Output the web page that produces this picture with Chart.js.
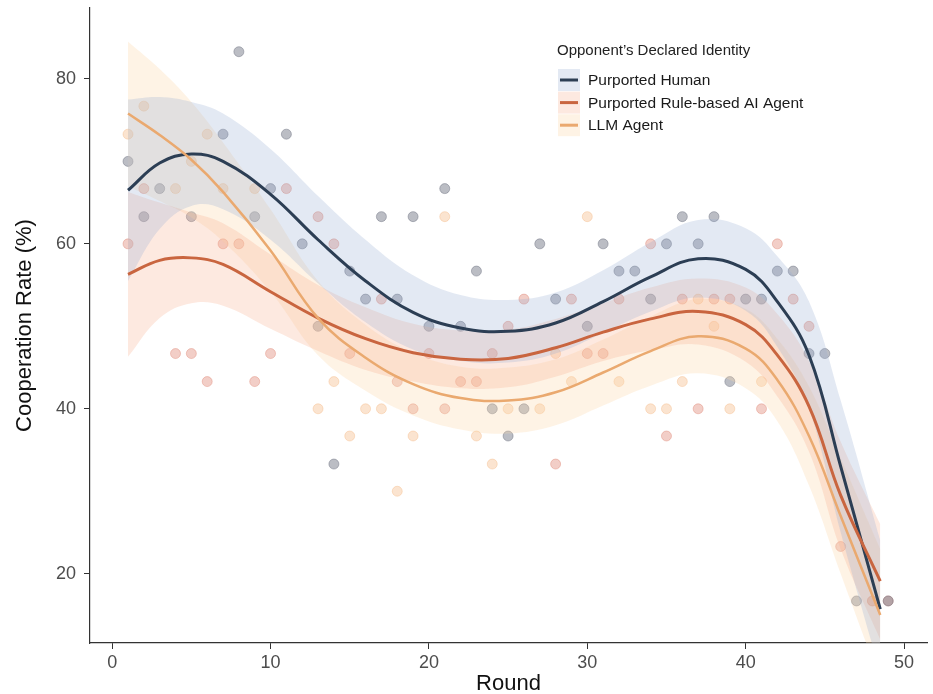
<!DOCTYPE html>
<html>
<head>
<meta charset="utf-8">
<title>Cooperation Rate by Round</title>
<script src="https://cdn.jsdelivr.net/npm/chart.js@4.4.1/dist/chart.umd.min.js"></script>
<style>
  html, body { margin: 0; padding: 0; background: #fff; }
  #wrap { width: 933px; height: 694px; position: relative; }
</style>
</head>
<body>
<div id="wrap"><canvas id="coopChart"></canvas></div>
<script>
// Cooperation rate per round, split by the opponent's declared identity

const rounds = [1, 2, 3, 4, 5, 6, 7, 8, 9, 10, 11, 12, 13, 14, 15, 16, 17, 18, 19, 20,
  21, 22, 23, 24, 25, 26, 27, 28, 29, 30, 31, 32, 33, 34, 35, 36, 37, 38, 39, 40,
  41, 42, 43, 44, 45, 46, 47, 48, 49];

// observed rates (null = hidden behind another point)
const humanPts = [70, 63.3, 66.7, null, 63.3, null, 73.3, 83.3, 63.3, 66.7,
  73.3, 60, 50, 33.3, 56.7, 53.3, 63.3, 53.3, 63.3, 50,
  66.7, 50, 56.7, 40, 36.7, 40, 60, 53.3, null, 50,
  60, 56.7, 56.7, 53.3, 60, 63.3, 60, 63.3, 43.3, 53.3,
  53.3, 56.7, 56.7, 46.7, 46.7, null, 16.7, null, 16.7];
const rulePts = [60, 66.7, null, 46.7, 46.7, 43.3, 60, 60, 43.3, 46.7,
  66.7, null, 63.3, 60, 46.7, null, 53.3, 43.3, 40, 46.7,
  40, 43.3, 43.3, 46.7, 50, 53.3, null, 33.3, 53.3, 46.7,
  46.7, 53.3, null, 60, 36.7, 53.3, 40, 53.3, 53.3, null,
  40, 60, 53.3, 50, null, 23.3, null, 16.7, 16.7];
const llmPts = [73.3, 76.7, null, 66.7, 70, 73.3, 66.7, null, 66.7, null,
  null, null, 40, 43.3, 36.7, 40, 40, 30, 36.7, null,
  63.3, null, 36.7, 33.3, 40, null, 40, 46.7, 43.3, 63.3,
  null, 43.3, null, 40, 40, 43.3, 53.3, 50, 40, null,
  43.3, null, null, null, null, null, null, 16.7, null];

// smoothed fits and their confidence bands
const fitX = [1, 3, 5, 7, 10, 13, 16, 19, 22, 25, 28, 31, 34, 37, 40, 42, 44, 46, 48.5];
const humanFit = [66.5, 69.8, 70.9, 70.0, 66.0, 60.5, 55.5, 51.7, 49.8, 49.4, 50.4, 53.0, 56.0, 58.2, 56.9, 53.0, 46.5, 33.0, 15.7];
const humanLo  = [55.5, 61.8, 64.6, 64.2, 60.5, 55.2, 50.5, 47.2, 45.8, 45.6, 46.7, 49.2, 51.8, 53.5, 51.9, 47.5, 40.0, 25.0, 8.0];
const humanHi  = [77.5, 77.8, 77.2, 75.8, 71.5, 65.8, 60.5, 56.2, 53.8, 53.2, 54.1, 56.8, 60.2, 62.9, 61.9, 58.5, 53.0, 41.0, 24.0];
const ruleFit  = [56.3, 58.0, 58.3, 57.5, 54.2, 51.0, 48.5, 46.8, 46.0, 46.1, 47.4, 49.3, 50.9, 51.8, 50.2, 46.5, 40.3, 29.5, 19.1];
const ruleLo   = [46.3, 51.0, 52.8, 52.5, 49.7, 47.0, 44.7, 43.3, 42.5, 42.6, 43.9, 45.8, 47.1, 47.8, 45.7, 41.5, 34.8, 23.0, 12.0];
const ruleHi   = [66.3, 65.0, 63.8, 62.5, 58.7, 55.0, 52.3, 50.3, 49.5, 49.6, 50.9, 52.8, 54.7, 55.8, 54.7, 51.5, 45.8, 36.0, 26.0];
const llmFit   = [75.8, 73.2, 70.2, 66.3, 59.2, 51.0, 46.2, 43.0, 41.3, 41.0, 42.0, 44.4, 47.0, 48.8, 47.3, 43.5, 36.7, 27.0, 15.0];
const llmLo    = [67.0, 65.2, 63.2, 60.3, 54.2, 46.5, 42.2, 39.2, 37.5, 37.0, 38.0, 40.4, 42.8, 44.3, 42.5, 38.5, 30.7, 20.0, 7.0];
const llmHi    = [84.5, 81.2, 77.2, 72.3, 64.2, 55.5, 50.2, 46.8, 45.1, 45.0, 46.0, 48.4, 51.2, 53.3, 52.1, 48.5, 42.7, 34.0, 23.0];

const xTicks = [0, 10, 20, 30, 40, 50];
const yTicks = [20, 40, 60, 80];
const legendTitle = "Opponent\u2019s Declared Identity";
const seriesLabels = ['Purported Human', 'Purported Rule-based AI Agent', 'LLM Agent'];

const lineColors  = ['#2c3e54', '#c9653f', '#eaa96f'];
const bandColors  = ['rgba(150,172,212,0.27)', 'rgba(248,175,145,0.28)', 'rgba(252,214,170,0.30)'];
const pointColors = ['rgba(112,118,132,0.48)', 'rgba(218,120,100,0.36)', 'rgba(242,172,112,0.33)'];

const FONT = '"Liberation Sans", Arial, sans-serif';

function toXY(xs, ys) {
    return xs.map((x, i) => ({ x: x, y: ys[i] })).filter(p => p.y !== null);
}

const pointSets = [humanPts, rulePts, llmPts];
const fitSets = [humanFit, ruleFit, llmFit];
const loSets = [humanLo, ruleLo, llmLo];
const hiSets = [humanHi, ruleHi, llmHi];

const datasets = [];

// bands: lower edge, then upper edge filled down to it
for (let i = 0; i < 3; i++) {
    datasets.push({
        type: 'line',
        label: seriesLabels[i] + ' lo',
        data: toXY(fitX, loSets[i]),
        borderWidth: 0,
        pointRadius: 0,
        tension: 0.4,
        fill: false,
        order: 20
    });
    datasets.push({
        type: 'line',
        label: seriesLabels[i] + ' hi',
        data: toXY(fitX, hiSets[i]),
        borderWidth: 0,
        pointRadius: 0,
        tension: 0.4,
        backgroundColor: bandColors[i],
        fill: '-1',
        order: 20
    });
}

// raw points
for (let i = 0; i < 3; i++) {
    datasets.push({
        type: 'scatter',
        label: seriesLabels[i] + ' points',
        data: toXY(rounds, pointSets[i]),
        pointRadius: 5,
        pointHoverRadius: 5,
        backgroundColor: pointColors[i],
        borderColor: pointColors[i],
        borderWidth: 1,
        order: 30
    });
}

// fitted lines (drawn last so they sit on top)
for (let i = 2; i >= 0; i--) {
    datasets.push({
        type: 'line',
        label: seriesLabels[i],
        data: toXY(fitX, fitSets[i]),
        borderColor: lineColors[i],
        borderWidth: i === 2 ? 2.5 : 3,
        pointRadius: 0,
        tension: 0.4,
        fill: false,
        order: 10 - i
    });
}

// legend drawn in the upper right of the plot
const identityLegend = {
    id: 'identityLegend',
    afterDraw(chart) {
        const ctx = chart.ctx;
        ctx.save();
        ctx.textBaseline = 'middle';
        ctx.textAlign = 'left';
        ctx.font = '15px ' + FONT;
        ctx.fillStyle = '#222';
        ctx.fillText(legendTitle, 557, 51);
        for (let i = 0; i < 3; i++) {
            const cy = 80 + i * 22.6;
            ctx.fillStyle = bandColors[i];
            ctx.fillRect(558, cy - 11, 22, 22);
            ctx.strokeStyle = lineColors[i];
            ctx.lineWidth = 3;
            ctx.beginPath();
            ctx.moveTo(560, cy);
            ctx.lineTo(578, cy);
            ctx.stroke();
            ctx.fillStyle = '#1a1a1a';
            ctx.font = '15.5px ' + FONT;
            ctx.fillText(seriesLabels[i], 588, cy + 1);
        }
        ctx.restore();
    }
};

const axisGrid = {
    display: true,
    drawOnChartArea: false,
    drawTicks: true,
    tickLength: 6,
    color: '#333'
};

new Chart(document.getElementById('coopChart'), {
    data: { datasets: datasets },
    options: {
        responsive: true,
        maintainAspectRatio: false,
        animation: false,
        layout: { padding: { top: 8, right: 0, left: 0, bottom: 0 } },
        plugins: {
            legend: { display: false },
            tooltip: { enabled: false }
        },
        scales: {
            x: {
                type: 'linear',
                min: -1.4,
                max: 51.45,
                afterBuildTicks: (scale) => { scale.ticks = xTicks.map(v => ({ value: v })); },
                afterFit: (scale) => {
                    scale.height = 51;
                    scale.paddingLeft = 0;
                    scale.paddingRight = 0;
                },
                grid: axisGrid,
                border: { display: true, color: '#333', width: 1.2 },
                ticks: {
                    color: '#4d4d4d',
                    padding: 3,
                    font: { family: FONT, size: 18 }
                },
                title: {
                    display: true,
                    text: 'Round',
                    color: '#111',
                    padding: { top: 0, bottom: -3 },
                    font: { family: FONT, size: 22 }
                }
            },
            y: {
                type: 'linear',
                min: 11.6,
                max: 88.6,
                afterBuildTicks: (scale) => { scale.ticks = yTicks.map(v => ({ value: v })); },
                afterFit: (scale) => {
                    scale.width = 90;
                    scale.paddingTop = 0;
                    scale.paddingBottom = 0;
                },
                grid: axisGrid,
                border: { display: true, color: '#333', width: 1.2 },
                ticks: {
                    color: '#4d4d4d',
                    padding: 8,
                    font: { family: FONT, size: 18 }
                },
                title: {
                    display: true,
                    text: 'Cooperation Rate (%)',
                    color: '#111',
                    padding: { top: 12, bottom: 0 },
                    font: { family: FONT, size: 22 }
                }
            }
        }
    },
    plugins: [identityLegend]
});
</script>
</body>
</html>
